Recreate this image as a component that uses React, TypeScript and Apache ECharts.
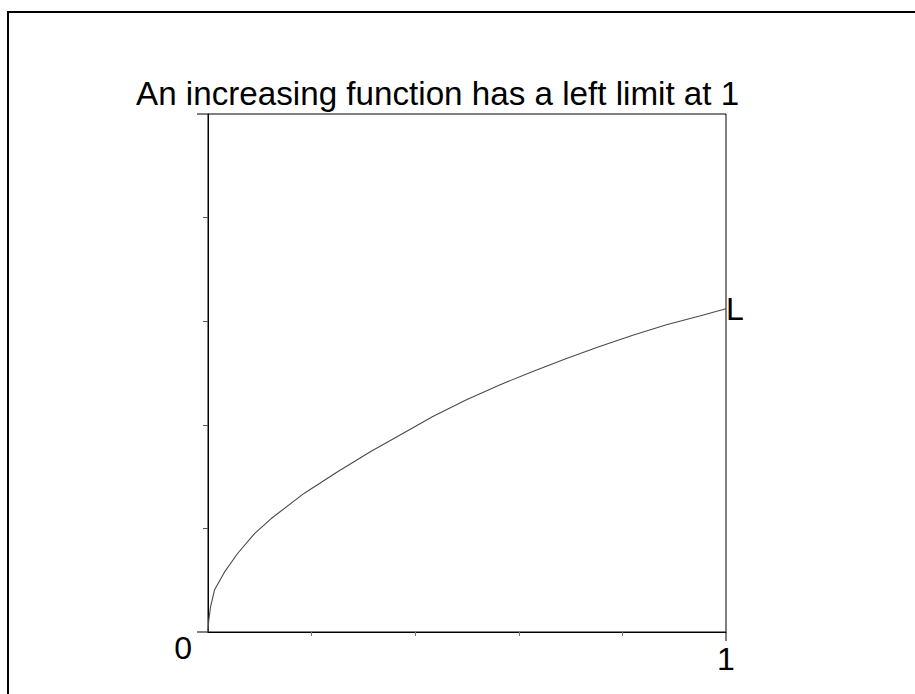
import React, { useEffect, useRef } from "react";
import * as echarts from "echarts";

const titleText = "An increasing function has a left limit at 1";
const xValues = [0, 0.0015, 0.005, 0.0125, 0.032, 0.0575, 0.0898, 0.122, 0.186, 0.251, 0.315, 0.37, 0.434, 0.498, 0.563, 0.627, 0.692, 0.756, 0.82, 0.885, 0.949, 1.0];
const yValues = [0, 0.023, 0.049, 0.081, 0.116, 0.152, 0.19, 0.219, 0.268, 0.31, 0.349, 0.38, 0.416, 0.448, 0.477, 0.503, 0.528, 0.551, 0.573, 0.593, 0.61, 0.624];
const minorTicks = [0.2, 0.4, 0.6, 0.8];
const xLabelValues = [1];
const yLabelValues = [0];
const endLabelText = "L";

const FONT = "'Liberation Sans', Arial, Helvetica, sans-serif";

export default function App() {
  const ref = useRef<HTMLDivElement>(null);
  useEffect(() => {
    if (!ref.current) return;
    const chart = echarts.init(ref.current, undefined, { renderer: "svg" });
    const data = xValues.map((x, i) => [x, yValues[i]]);
    chart.setOption({
      animation: false,
      backgroundColor: "#ffffff",
      title: {
        text: titleText,
        left: 136,
        top: 77,
        padding: 0,
        textStyle: { fontSize: 33.2, fontWeight: "normal", color: "#000", fontFamily: FONT },
      },
      grid: {
        left: 208,
        top: 114,
        width: 518,
        height: 518,
        show: true,
        borderColor: "#000",
        borderWidth: 1,
        backgroundColor: "transparent",
      },
      xAxis: {
        type: "value",
        min: 0,
        max: 1,
        interval: 0.2,
        axisLine: { show: true, lineStyle: { color: "#000", width: 1 } },
        axisTick: { show: true, length: 4, customValues: minorTicks, lineStyle: { color: "#777", width: 1 } },
        axisLabel: {
          show: true,
          customValues: xLabelValues,
          formatter: (v: number) => (xLabelValues.includes(v) ? String(v) : ""),
          margin: 11,
          fontSize: 32,
          color: "#000",
          fontFamily: FONT,
        },
        splitLine: { show: false },
      },
      yAxis: {
        type: "value",
        min: 0,
        max: 1,
        interval: 0.2,
        axisLine: { show: true, lineStyle: { color: "#000", width: 1 } },
        axisTick: { show: true, length: 5, customValues: minorTicks, lineStyle: { color: "#555", width: 1 } },
        axisLabel: {
          show: true,
          customValues: yLabelValues,
          formatter: (v: number) => (yLabelValues.includes(v) ? String(v) : ""),
          margin: 16,
          align: "right",
          verticalAlign: "top",
          fontSize: 32,
          color: "#000",
          fontFamily: FONT,
        },
        splitLine: { show: false },
      },
      series: [
        {
          type: "line",
          data,
          showSymbol: false,
          smooth: false,
          lineStyle: { color: "#4a4a4a", width: 1.1 },
          endLabel: {
            show: true,
            formatter: endLabelText,
            distance: 0,
            fontSize: 32,
            color: "#000",
            fontFamily: FONT,
            align: "left",
            verticalAlign: "middle",
          },
          clip: false,
        },
      ],
    });
    const p00 = chart.convertToPixel({ gridIndex: 0 }, [0, 0]) as number[];
    const p11 = chart.convertToPixel({ gridIndex: 0 }, [1, 1]) as number[];
    const ext = 11;
    chart.setOption({
      graphic: [
        {
          type: "rect",
          shape: { x: 8, y: 12, width: 2000, height: 2000 },
          style: { fill: "none", stroke: "#000", lineWidth: 2 },
          silent: true,
        },
        {
          type: "line",
          shape: { x1: p00[0] - ext, y1: p00[1], x2: p00[0], y2: p00[1] },
          style: { stroke: "#000", lineWidth: 1 },
        },
        {
          type: "line",
          shape: { x1: p00[0] - ext, y1: p11[1], x2: p00[0], y2: p11[1] },
          style: { stroke: "#000", lineWidth: 1 },
        },
        {
          type: "line",
          shape: { x1: p11[0], y1: p00[1], x2: p11[0], y2: p00[1] + 9 },
          style: { stroke: "#000", lineWidth: 1 },
        },
      ],
    });
    return () => chart.dispose();
  }, []);
  return (
    <div
      ref={ref}
      style={{ position: "fixed", left: 0, top: 0, width: 915, height: 694 }}
    />
  );
}
